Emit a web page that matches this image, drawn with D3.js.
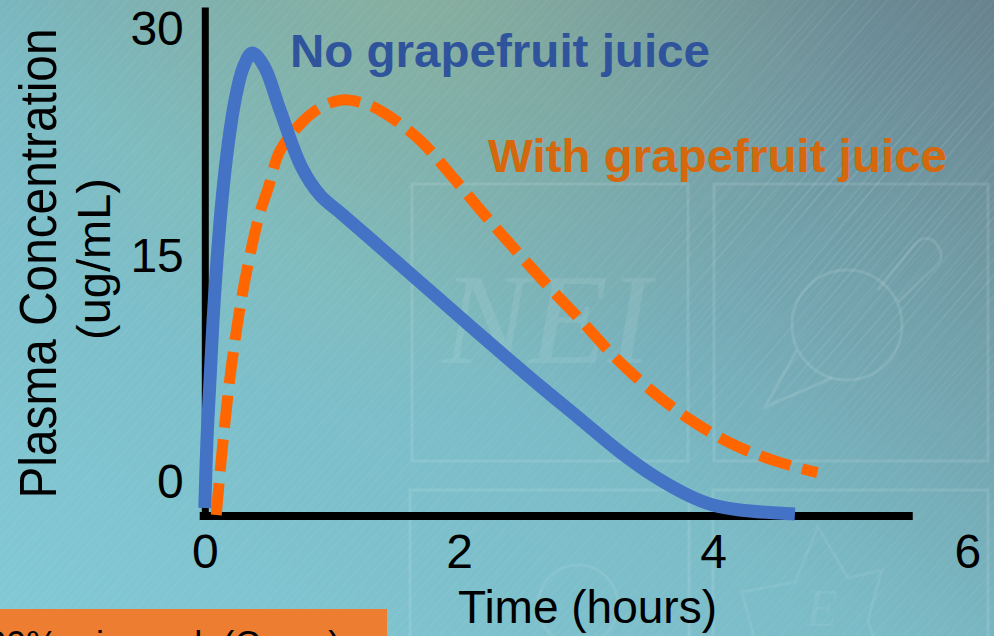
<!DOCTYPE html>
<html>
<head>
<meta charset="utf-8">
<script src="https://cdn.jsdelivr.net/npm/d3@7"></script>
<style>
  html, body { margin: 0; padding: 0; overflow: hidden; background: #78b8c2; }
  svg { display: block; font-family: "Liberation Sans", Arial, sans-serif; }
</style>
</head>
<body>
<svg id="chart" width="994" height="636"></svg>
<script>
// Plasma concentration (ug/mL) over time (hours), with and without grapefruit juice
const noJuiceHours = [0, 0.017, 0.041, 0.065, 0.096, 0.135, 0.183, 0.238, 0.301, 0.372, 0.466, 0.592, 0.761, 0.906, 1.079, 1.378, 1.693, 2.008, 2.323, 2.638, 2.952, 3.267, 3.534, 3.817, 3.998, 4.21, 4.643];
const noJuiceConc  = [-1.84, 2.66, 6.64, 10.62, 14.59, 18.57, 22.21, 25.19, 27.32, 28.31, 27.45, 24.53, 20.76, 18.9, 17.64, 15.45, 13.13, 10.81, 8.5, 6.24, 4.06, 1.87, 0.28, -1.05, -1.64, -1.97, -2.24];

const withJuiceHours = [0.09, 0.14, 0.21, 0.31, 0.43, 0.50, 0.59, 0.75, 0.91, 1.08, 1.28, 1.40, 1.54, 1.71, 1.97, 2.20, 2.44, 2.72, 2.97, 3.21, 3.52, 3.84, 4.15, 4.48, 4.82];
const withJuiceConc  = [-2.3, 2.3, 7.6, 13.0, 17.6, 19.4, 21.8, 23.6, 24.7, 25.2, 24.9, 24.4, 23.6, 22.4, 19.9, 17.6, 15.3, 12.7, 10.5, 8.3, 5.9, 3.9, 2.4, 1.3, 0.5];

const xTicks = [0, 2, 4, 6];
const yTicks = [0, 15, 30];
const xTitle = "Time (hours)";
const yTitleLines = ["Plasma Concentration", "(ug/mL)"];
const seriesNames = ["No grapefruit juice", "With grapefruit juice"];
const footnote = "30% \u2191 in peak (Cmax)";

const W = 994, H = 636;
const svg = d3.select("#chart");
const defs = svg.append("defs");

// ---------- background ----------
const bg = defs.append("linearGradient").attr("id", "bgGrad")
  .attr("x1", 0).attr("y1", 1).attr("x2", 1).attr("y2", 0);
bg.append("stop").attr("offset", 0).attr("stop-color", "#82c9d5");
bg.append("stop").attr("offset", 0.45).attr("stop-color", "#7abbc6");
bg.append("stop").attr("offset", 1).attr("stop-color", "#68828c");

const glow = defs.append("radialGradient").attr("id", "greenGlow")
  .attr("gradientUnits", "userSpaceOnUse")
  .attr("cx", 420).attr("cy", -40).attr("r", 460);
glow.append("stop").attr("offset", 0).attr("stop-color", "#9dbf92").attr("stop-opacity", 0.5);
glow.append("stop").attr("offset", 1).attr("stop-color", "#9dbf92").attr("stop-opacity", 0);

const stripes = defs.append("pattern").attr("id", "stripes")
  .attr("patternUnits", "userSpaceOnUse").attr("width", 23).attr("height", 40)
  .attr("patternTransform", "rotate(42)");
[[3, 0.07], [10, 0.04], [16, 0.08], [20, 0.03]].forEach(([px, o]) => {
  stripes.append("line").attr("x1", px).attr("x2", px).attr("y1", 0).attr("y2", 40)
    .attr("stroke", "#ffffff").attr("stroke-opacity", o).attr("stroke-width", 1);
});

const streaks = defs.append("pattern").attr("id", "streaks")
  .attr("patternUnits", "userSpaceOnUse").attr("width", 37).attr("height", 60)
  .attr("patternTransform", "rotate(40)");
[[2, 0.22], [7, 0.12], [13, 0.25], [21, 0.1], [27, 0.2], [33, 0.08]].forEach(([px, o]) => {
  streaks.append("line").attr("x1", px).attr("x2", px).attr("y1", 0).attr("y2", 60)
    .attr("stroke", "#bfe6f0").attr("stroke-opacity", o).attr("stroke-width", 1.2);
});
const streakFade = defs.append("radialGradient").attr("id", "streakFade")
  .attr("gradientUnits", "userSpaceOnUse").attr("cx", 860).attr("cy", 220).attr("r", 300);
streakFade.append("stop").attr("offset", 0).attr("stop-color", "#fff").attr("stop-opacity", 1);
streakFade.append("stop").attr("offset", 1).attr("stop-color", "#fff").attr("stop-opacity", 0);
defs.append("mask").attr("id", "streakMask")
  .append("rect").attr("width", W).attr("height", H).attr("fill", "url(#streakFade)");

svg.append("rect").attr("width", W).attr("height", H).attr("fill", "url(#bgGrad)");
svg.append("rect").attr("width", W).attr("height", H).attr("fill", "url(#greenGlow)");
svg.append("rect").attr("width", W).attr("height", H).attr("fill", "url(#stripes)");
svg.append("rect").attr("width", W).attr("height", H).attr("fill", "url(#streaks)")
  .attr("mask", "url(#streakMask)");

// faint emblem panels behind the plot
const deco = svg.append("g").attr("fill", "none")
  .attr("stroke", "#ffffff").attr("stroke-opacity", 0.11).attr("stroke-width", 3);
[[412, 184, 276, 277], [714, 184, 274, 277], [410, 490, 279, 160], [713, 490, 275, 160]]
  .forEach(([rx, ry, w, h]) => deco.append("rect").attr("x", rx).attr("y", ry).attr("width", w).attr("height", h));
svg.append("text").attr("x", 442).attr("y", 363)
  .attr("font-family", "'Liberation Serif', 'DejaVu Serif', serif")
  .attr("font-style", "italic").attr("font-size", 130)
  .attr("fill", "#ffffff").attr("fill-opacity", 0.09).text("NEI");
deco.append("circle").attr("cx", 847).attr("cy", 325).attr("r", 55);
deco.append("path").attr("d", "M797,350 L765,407 L832,378");
deco.append("path").attr("d", "M878,290 L915,244 Q925,234 935,242 L940,250 Q944,258 936,266 L898,302");
deco.append("circle").attr("cx", 578).attr("cy", 605).attr("r", 40).attr("stroke-opacity", 0.08);
deco.append("path").attr("d", "M760,660 L742,592 L795,582 L818,527 L848,578 L882,570 L868,620 L880,660")
  .attr("stroke-opacity", 0.08);
svg.append("text").attr("x", 806).attr("y", 626)
  .attr("font-family", "'Liberation Serif', 'DejaVu Serif', serif")
  .attr("font-style", "italic").attr("font-size", 52)
  .attr("fill", "#ffffff").attr("fill-opacity", 0.07).text("E");

// ---------- scales ----------
const x = d3.scaleLinear().domain([0, 6]).range([204.8, 967.4]);
const y = d3.scaleLinear().domain([-2.37, 31.36]).range([516, 7]);
const xAxisExtent = [-0.04, 5.57];

// ---------- axes ----------
const yAxis = svg.append("g").attr("transform", `translate(${x(0)},0)`)
  .call(d3.axisLeft(y).tickValues(yTicks).tickFormat(d3.format("d"))
    .tickSize(0).tickSizeOuter(0).tickPadding(21));
yAxis.select(".domain").attr("stroke", "#000").attr("stroke-width", 7);
yAxis.selectAll("text").attr("font-size", 48).attr("fill", "#000")
  .attr("font-family", "'Liberation Sans', Arial, sans-serif").attr("dy", "0.36em");

svg.append("line")
  .attr("x1", x(xAxisExtent[0])).attr("x2", x(xAxisExtent[1]))
  .attr("y1", y.range()[0]).attr("y2", y.range()[0])
  .attr("stroke", "#000").attr("stroke-width", 8);

const xAxis = svg.append("g").attr("transform", `translate(0,${y.range()[0]})`)
  .call(d3.axisBottom(x).tickValues(xTicks).tickFormat(d3.format("d"))
    .tickSize(0).tickPadding(18));
xAxis.select(".domain").remove();
xAxis.selectAll("text").attr("font-size", 48).attr("fill", "#000")
  .attr("font-family", "'Liberation Sans', Arial, sans-serif").attr("dy", "0.71em");

svg.append("text").attr("x", 587.5).attr("y", 623).attr("text-anchor", "middle")
  .attr("font-size", 46).attr("fill", "#000").text(xTitle);

svg.append("text").attr("transform", "translate(56,263.5) rotate(-90)")
  .attr("text-anchor", "middle").attr("font-size", 51).attr("fill", "#000")
  .attr("textLength", 470).attr("lengthAdjust", "spacingAndGlyphs")
  .text(yTitleLines[0]);
svg.append("text").attr("transform", "translate(110,259) rotate(-90)")
  .attr("text-anchor", "middle").attr("font-size", 47).attr("fill", "#000")
  .text(yTitleLines[1]);

// ---------- curves ----------
const line = d3.line().x(d => x(d[0])).y(d => y(d[1])).curve(d3.curveCatmullRom.alpha(0.5));

svg.append("path")
  .datum(withJuiceHours.map((h, i) => [h, withJuiceConc[i]]))
  .attr("d", line).attr("fill", "none")
  .attr("stroke", "#ff6600").attr("stroke-width", 11)
  .attr("stroke-dasharray", "32,12");

svg.append("path")
  .datum(noJuiceHours.map((h, i) => [h, noJuiceConc[i]]))
  .attr("d", line).attr("fill", "none")
  .attr("stroke", "#4472c4").attr("stroke-width", 13)
  .attr("stroke-linejoin", "round");

// ---------- series labels ----------
svg.append("text").attr("x", 290).attr("y", 67)
  .attr("font-size", 46).attr("font-weight", "bold").attr("fill", "#2f549c")
  .attr("textLength", 420).attr("lengthAdjust", "spacingAndGlyphs")
  .text(seriesNames[0]);
svg.append("text").attr("x", 488).attr("y", 172)
  .attr("font-size", 46).attr("font-weight", "bold").attr("fill", "#d5680c")
  .attr("textLength", 459).attr("lengthAdjust", "spacingAndGlyphs")
  .text(seriesNames[1]);

// ---------- footnote box ----------
svg.append("rect").attr("x", 0).attr("y", 609).attr("width", 387).attr("height", 40)
  .attr("fill", "#ed7d31");
svg.append("text").attr("x", -14).attr("y", 657)
  .attr("font-size", 36).attr("fill", "#000").text(footnote);
</script>
</body>
</html>
